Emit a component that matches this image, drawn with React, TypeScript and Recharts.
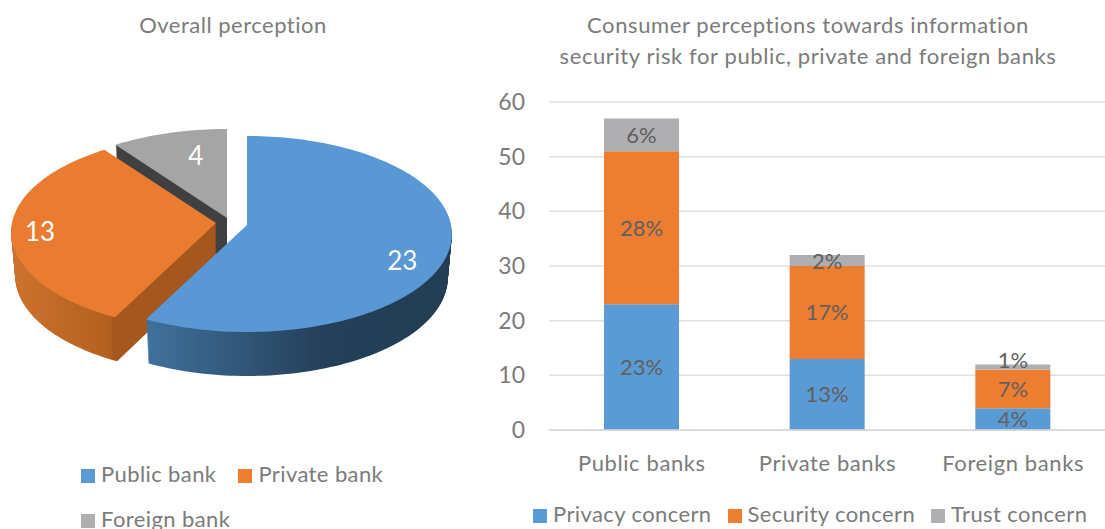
import React from "react";
import {
  BarChart,
  Bar,
  XAxis,
  YAxis,
  CartesianGrid,
  Legend,
  LabelList,
  PieChart,
  Pie,
  Cell,
} from "recharts";

const bankNames = ["Public bank", "Private bank", "Foreign bank"];
const bankCounts = [23, 13, 4];

const barCategories = ["Public banks", "Private banks", "Foreign banks"];
const privacyConcern = [23, 13, 4];
const securityConcern = [28, 17, 7];
const trustConcern = [6, 2, 1];
const yTicks = [0, 10, 20, 30, 40, 50, 60];

const FONT = "Lato, sans-serif";
const TEXT = "#7b7b7b";
const BLUE = "#5b9bd5";
const ORANGE = "#ed7d31";
const GRAY = "#afafb2";
const BAR_LABEL = "#606060";

// pie is drawn in reverse and counter clockwise so blue ends up painted on top
const pieData = bankNames
  .map((name, i) => ({ name, value: bankCounts[i] }))
  .reverse();

const barData = barCategories.map((name, i) => ({
  name,
  privacy: privacyConcern[i],
  security: securityConcern[i],
  trust: trustConcern[i],
}));

// the 3d look: a disc seen in perspective, then repeated downwards for the wall
const PIE_RY = 97.2;
const PERSPECTIVE = 0.0918;
const DEPTH = 44;
const WALL_SHRINK = 0.02;

type SliceLook = {
  top: string;
  dx: number;
  dy: number;
  labelR: number;
  labelDx: number;
  labelDy: number;
  gradient: string;
};

const sliceLook: Record<string, SliceLook> = {
  "Public bank": { top: "#5a98d5", dx: 0, dy: 0, labelR: 0.78, labelDx: -2, labelDy: 17, gradient: "wallBlue" },
  "Private bank": { top: "#e97c30", dx: -31, dy: -2, labelR: 0.86, labelDx: 0, labelDy: 1, gradient: "wallOrange" },
  "Foreign bank": { top: "#a5a5a5", dx: -20, dy: -7, labelR: 0.55, labelDx: 2, labelDy: -14, gradient: "wallGray" },
};

const project = (cx: number, cy: number, radius: number, angle: number, r: number) => {
  const rad = (angle * Math.PI) / 180;
  const u = r * Math.cos(rad);
  const v = -r * Math.sin(rad);
  const w = 1 - PERSPECTIVE * v;
  return { x: cx + (radius * u) / w, y: cy + (PIE_RY * v) / w };
};

const slicePath = (cx: number, cy: number, radius: number, start: number, end: number) => {
  const steps = Math.max(2, Math.ceil(Math.abs(end - start) / 1.5));
  let d = `M${cx},${cy}`;
  for (let i = 0; i <= steps; i++) {
    const p = project(cx, cy, radius, start + ((end - start) * i) / steps, 1);
    d += `L${p.x.toFixed(2)},${p.y.toFixed(2)}`;
  }
  return d + "Z";
};

const layers: number[] = [];
for (let d = DEPTH; d >= 1; d--) layers.push(d);

const Slice3D = (props: any) => {
  const { cx, cy, outerRadius, startAngle, endAngle, name } = props;
  const look = sliceLook[name];
  return (
    <g transform={`translate(${look.dx},${look.dy})`}>
      {layers.map((d) => (
        <path
          key={d}
          d={slicePath(cx, cy + d, outerRadius * (1 - (WALL_SHRINK * d) / DEPTH), startAngle, endAngle)}
          fill={`url(#${look.gradient})`}
        />
      ))}
      <path d={slicePath(cx, cy, outerRadius, startAngle, endAngle)} fill={look.top} />
    </g>
  );
};

const sliceLabel = (props: any) => {
  const { cx, cy, midAngle, outerRadius, name, value } = props;
  const look = sliceLook[name];
  const p = project(cx, cy, outerRadius, midAngle, look.labelR);
  return (
    <text
      x={p.x + look.dx + look.labelDx}
      y={p.y + look.dy + look.labelDy}
      fill="#fff"
      fontSize={26}
      fontFamily={FONT}
      textAnchor="middle"
      dominantBaseline="central"
    >
      {value}
    </text>
  );
};

const percent = (v: any) => `${v}%`;

// the thin 1% segment carries its label above the middle of the segment
const TrustLabel = (props: any) => {
  const { x, y, width, height, value } = props;
  return (
    <text
      x={x + width / 2}
      y={y + height / 2 - (height < 8 ? 8 : 0)}
      fill={BAR_LABEL}
      fontSize={22}
      fontFamily={FONT}
      textAnchor="middle"
      dominantBaseline="central"
    >
      {percent(value)}
    </text>
  );
};

const legendText = (gap: number) => (value: string) => (
  <span style={{ color: TEXT, marginLeft: 2, marginRight: gap, letterSpacing: 0.4 }}>{value}</span>
);

export default function App() {
  return (
    <div style={{ position: "absolute", left: 0, top: 0, width: 1105, height: 529, overflow: "hidden", background: "#fff", fontFamily: FONT }}>
      <div style={{ position: "absolute", left: 33, width: 400, top: 11, textAlign: "center", fontSize: 22, lineHeight: "28px", color: TEXT, letterSpacing: 0.5 }}>
        Overall perception
      </div>
      <div style={{ position: "absolute", left: 508, width: 600, top: 9, textAlign: "center", fontSize: 22, lineHeight: "31px", color: TEXT, letterSpacing: 0.6 }}>
        Consumer perceptions towards information
        <br />
        security risk for public, private and foreign banks
      </div>

      <div style={{ position: "absolute", left: 0, top: 0 }}>
        <PieChart width={480} height={529} margin={{ top: 0, right: 0, bottom: 0, left: 0 }}>
          <defs>
            <linearGradient id="wallBlue" gradientUnits="userSpaceOnUse" x1="148" y1="0" x2="452" y2="0">
              <stop offset="0" stopColor="#40719c" />
              <stop offset="0.58" stopColor="#243f59" />
              <stop offset="1" stopColor="#233d54" />
            </linearGradient>
            <linearGradient id="wallOrange" gradientUnits="userSpaceOnUse" x1="46" y1="0" x2="156" y2="0">
              <stop offset="0" stopColor="#cc722d" />
              <stop offset="0.87" stopColor="#b3601f" />
              <stop offset="0.89" stopColor="#a55720" />
              <stop offset="1" stopColor="#a55720" />
            </linearGradient>
            <linearGradient id="wallGray" gradientUnits="userSpaceOnUse" x1="0" y1="0" x2="480" y2="0">
              <stop offset="0" stopColor="#404040" />
              <stop offset="1" stopColor="#404040" />
            </linearGradient>
          </defs>
          <Pie
            data={pieData}
            dataKey="value"
            nameKey="name"
            cx={247}
            cy={225}
            innerRadius={0}
            outerRadius={204}
            startAngle={90}
            endAngle={450}
            paddingAngle={0}
            shape={Slice3D}
            label={sliceLabel}
            labelLine={false}
            isAnimationActive={false}
          >
            {pieData.map((d) => (
              <Cell key={d.name} fill={d.name === bankNames[0] ? BLUE : d.name === bankNames[1] ? ORANGE : GRAY} />
            ))}
          </Pie>
          <Legend
            iconType="square"
            iconSize={14}
            align="left"
            formatter={legendText(12)}
            itemSorter={(e: any) => bankNames.indexOf(e.value)}
            wrapperStyle={{ left: 81, top: 451, width: 340, height: 78, fontSize: 22, lineHeight: "45px", fontFamily: FONT }}
          />
        </PieChart>
      </div>

      <div style={{ position: "absolute", left: 491, top: 0 }}>
        <BarChart width={615} height={529} data={barData} barSize={75} margin={{ top: 102, right: 0, bottom: 0, left: 0 }}>
          <CartesianGrid vertical={false} stroke="#e0e0e0" strokeWidth={1.5} />
          <XAxis
            dataKey="name"
            height={69}
            axisLine={{ stroke: "#d9d9d9", strokeWidth: 1.5 }}
            tickLine={false}
            tickMargin={19}
            tick={{ fill: TEXT, fontSize: 22, fontFamily: FONT, letterSpacing: 0.6 }}
          />
          <YAxis
            width={58}
            domain={[0, 60]}
            ticks={yTicks}
            axisLine={false}
            tickLine={false}
            tickMargin={18}
            tick={{ fill: TEXT, fontSize: 23, fontFamily: FONT }}
          />
          <Bar dataKey="privacy" name="Privacy concern" stackId="a" fill={BLUE} isAnimationActive={false}>
            <LabelList dataKey="privacy" position="center" formatter={percent} fill={BAR_LABEL} fontSize={22} fontFamily={FONT} />
          </Bar>
          <Bar dataKey="security" name="Security concern" stackId="a" fill={ORANGE} isAnimationActive={false}>
            <LabelList dataKey="security" position="center" formatter={percent} fill={BAR_LABEL} fontSize={22} fontFamily={FONT} />
          </Bar>
          <Bar dataKey="trust" name="Trust concern" stackId="a" fill={GRAY} isAnimationActive={false}>
            <LabelList dataKey="trust" content={TrustLabel} />
          </Bar>
          <Legend
            iconType="square"
            iconSize={14}
            align="left"
            formatter={legendText(6)}
            wrapperStyle={{ left: 42, top: 499, width: 573, height: 30, fontSize: 22, lineHeight: "30px", fontFamily: FONT, whiteSpace: "nowrap" }}
          />
        </BarChart>
      </div>
    </div>
  );
}
